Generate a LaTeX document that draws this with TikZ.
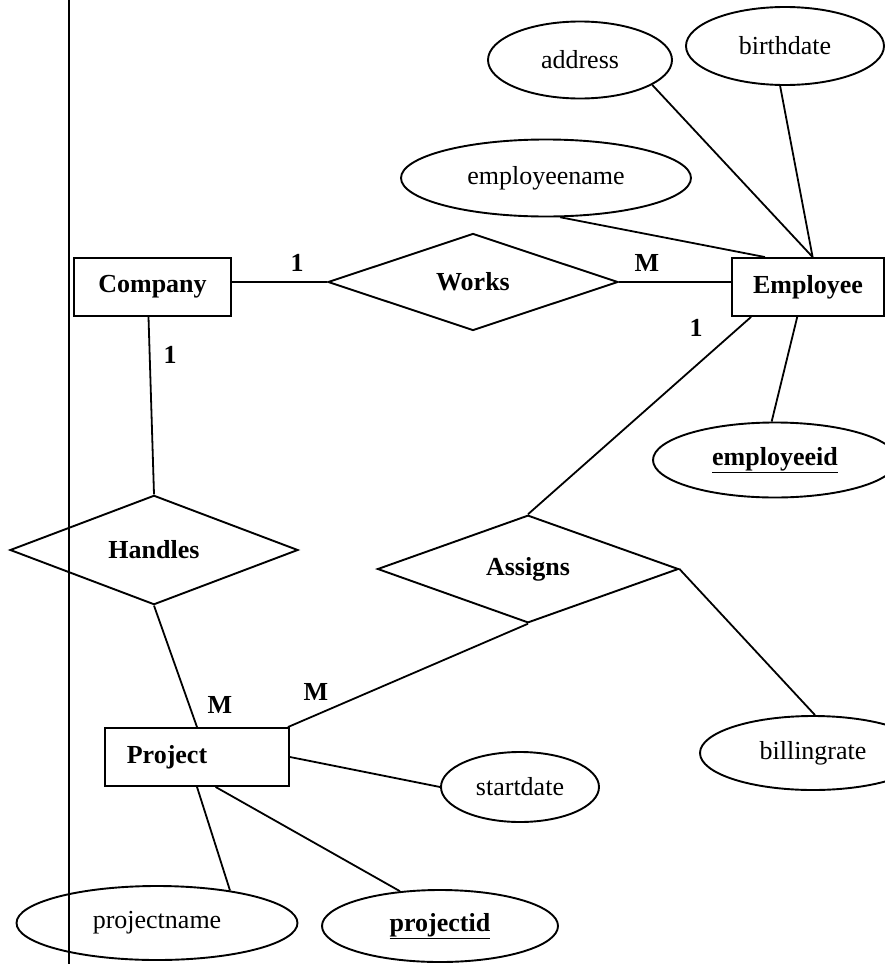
\documentclass[tikz,border=0pt]{standalone}
\usepackage{fontspec}
\setmainfont{Liberation Serif}
\usetikzlibrary{shapes.geometric,calc}
\tikzset{
  base/.style={draw=black, line width=1.9pt, inner sep=0pt, font=\fontsize{26}{30}\selectfont},
  entity/.style={base, rectangle, font=\fontsize{26}{30}\selectfont\bfseries},
  rel/.style={base, diamond, font=\fontsize{26}{30}\selectfont\bfseries},
  attr/.style={base, ellipse},
  card/.style={font=\fontsize{26}{30}\selectfont\bfseries, inner sep=0pt},
  conn/.style={draw=black, line width=1.8pt},
}
\begin{document}
\begin{tikzpicture}[x=1pt, y=-1pt]
\useasboundingbox (0,0) rectangle (885,964);
% left margin rule
\coordinate (vtop) at (69,0);
\coordinate (vbot) at (69,964);
\draw[conn] (vtop) -- (vbot);

% entities
\node[entity, minimum width=157pt, minimum height=58pt] (company) at (152.5,287) {Company};
\node[entity, minimum width=152pt, minimum height=58pt] (employee) at (808,287) {Employee};
\node[entity, minimum width=184pt, minimum height=58pt] (project) at (197,757) {Project\hspace*{60pt}};

% relationships
\node[rel, minimum width=290pt, minimum height=97pt] (works) at (473,282) {Works};
\node[rel, minimum width=288pt, minimum height=98pt] (handles) at (154,550) {Handles};
\node[rel, minimum width=301pt, minimum height=107pt] (assigns) at (528,569) {Assigns};

% attributes
\node[attr, minimum width=184pt, minimum height=77pt] (address) at (580,60) {address};
\node[attr, minimum width=198pt, minimum height=78pt] (birthdate) at (785,46) {birthdate};
\node[attr, minimum width=290pt, minimum height=77pt] (employeename) at (546,178) {employeename};
\node[attr, minimum width=244pt, minimum height=75pt] (employeeid) at (775,460) {\textbf{\underline{employeeid}}};
\node[attr, minimum width=226pt, minimum height=74pt] (billingrate) at (813,753) {billingrate};
\node[attr, minimum width=158pt, minimum height=70pt] (startdate) at (520,787) {startdate};
\node[attr, minimum width=281pt, minimum height=74pt] (projectname) at (157,923) {projectname};
\node[attr, minimum width=236pt, minimum height=72pt] (projectid) at (440,926) {\textbf{\underline{projectid}}};

% connectors
\draw[conn] (works.west) -- (works.west -| company.east);
\draw[conn] (works.east) -- (works.east -| employee.west);
\draw[conn] ($(company.south)+(-4,0)$) -- (handles.north);
\draw[conn] (handles.south) -- (project.north);
\draw[conn] (assigns.south) -- ($(project.north east)+(-2,0)$);
\draw[conn] ($(employee.south west)!0.13!(employee.south east)$) -- (assigns.north);
\draw[conn] ($(employee.south west)!0.43!(employee.south east)$) -- (employeeid.95);
\draw[conn] (employeename.-70) -- ($(employee.north west)!0.22!(employee.north east)$);
\draw[conn] (address.-19) -- ($(employee.north west)!0.53!(employee.north east)$);
\draw[conn] (birthdate.-97) -- ($(employee.north west)!0.53!(employee.north east)$);
\draw[conn] (assigns.east) -- (billingrate.87);
\draw[conn] (project.east) -- (startdate.west);
\draw[conn] (project.south) -- (projectname.24);
\draw[conn] ($(project.south west)!0.6!(project.south east)$) -- (projectid.139);

% cardinalities
\node[card] (c1) at (297,263) {1};
\node[card] (c2) at (647,263) {M};
\node[card] (c3) at (170,355) {1};
\node[card] (c4) at (696,328) {1};
\node[card] (c5) at (220,705) {M};
\node[card] (c6) at (316,692) {M};
\end{tikzpicture}
\end{document}
